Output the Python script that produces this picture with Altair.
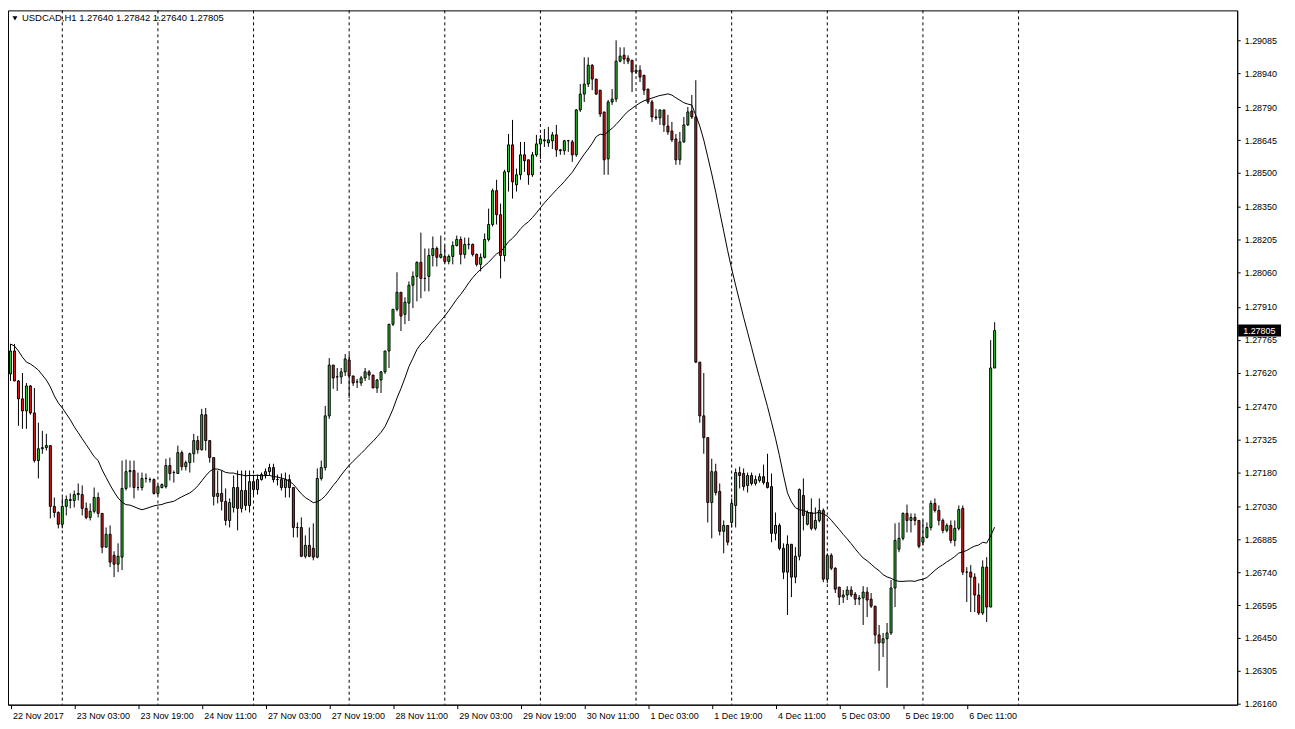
import altair as alt
import pandas as pd

symbol = "USDCAD,H1"

opens = [
    1.27614, 1.27715, 1.27583, 1.27504, 1.27451, 1.27561, 1.27442, 1.27232, 1.27284, 1.27289,
    1.27298, 1.27030, 1.27003, 1.26951, 1.27030, 1.27060, 1.27056, 1.27082, 1.27082, 1.27021,
    1.26981, 1.27008, 1.27069, 1.26999, 1.26850, 1.26907, 1.26814, 1.26775, 1.26806, 1.27109,
    1.27183, 1.27188, 1.27113, 1.27113, 1.27153, 1.27148, 1.27148, 1.27087, 1.27113, 1.27117,
    1.27210, 1.27179, 1.27175, 1.27267, 1.27205, 1.27223, 1.27262, 1.27320, 1.27280, 1.27434,
    1.27320, 1.27245, 1.27074, 1.27087, 1.27052, 1.26968, 1.27025, 1.27113, 1.27021, 1.27100,
    1.27034, 1.27139, 1.27104, 1.27148, 1.27170, 1.27183, 1.27201, 1.27148, 1.27148, 1.27113,
    1.27148, 1.27113, 1.26937, 1.26937, 1.26810, 1.26858, 1.26845, 1.26806, 1.27153, 1.27201,
    1.27429, 1.27653, 1.27601, 1.27601, 1.27623, 1.27675, 1.27605, 1.27579, 1.27574, 1.27596,
    1.27623, 1.27609, 1.27552, 1.27587, 1.27623, 1.27715, 1.27833, 1.27899, 1.27974, 1.27877,
    1.27926, 1.28005, 1.28044, 1.28106, 1.28035, 1.28044, 1.28136, 1.28167, 1.28128, 1.28132,
    1.28110, 1.28132, 1.28180, 1.28207, 1.28141, 1.28185, 1.28185, 1.28141, 1.28097, 1.28128,
    1.28207, 1.28273, 1.28422, 1.28316, 1.28136, 1.28505, 1.28624, 1.28448, 1.28492, 1.28580,
    1.28558, 1.28492, 1.28580, 1.28628, 1.28642, 1.28633, 1.28642, 1.28668, 1.28598, 1.28598,
    1.28642, 1.28637, 1.28580, 1.28778, 1.28848, 1.28892, 1.28975, 1.28914, 1.28865, 1.28769,
    1.28562, 1.28813, 1.28826, 1.28993, 1.29019, 1.29006, 1.28997, 1.28945, 1.28953, 1.28931,
    1.28870, 1.28813, 1.28747, 1.28743, 1.28778, 1.28707, 1.28685, 1.28650, 1.28558, 1.28637,
    1.28712, 1.28773, 1.28747, 1.27666, 1.27429, 1.27333, 1.27047, 1.27183, 1.27096, 1.26920,
    1.26946, 1.26959, 1.27034, 1.27179, 1.27175, 1.27122, 1.27166, 1.27131, 1.27144, 1.27161,
    1.27135, 1.27117, 1.26911, 1.26946, 1.26845, 1.26740, 1.26863, 1.26718, 1.26810, 1.27078,
    1.26951, 1.27003, 1.26933, 1.26968, 1.27012, 1.26709, 1.26814, 1.26757, 1.26674, 1.26630,
    1.26639, 1.26661, 1.26643, 1.26621, 1.26626, 1.26652, 1.26621, 1.26590, 1.26463, 1.26428,
    1.26446, 1.26472, 1.26670, 1.26841, 1.26889, 1.26999, 1.26968, 1.26981, 1.26968, 1.26872,
    1.26893, 1.26937, 1.27043, 1.27012, 1.26968, 1.26924, 1.26946, 1.26880, 1.26933, 1.27021,
    1.26740, 1.26740, 1.26718, 1.26639, 1.26560, 1.26762, 1.26586, 1.27640,
]

highs = [
    1.27746, 1.27746, 1.27587, 1.27618, 1.27574, 1.27565, 1.27552, 1.27399, 1.27363, 1.27350,
    1.27298, 1.27069, 1.27008, 1.27069, 1.27078, 1.27087, 1.27100, 1.27131, 1.27122, 1.27047,
    1.27043, 1.27113, 1.27091, 1.26999, 1.26937, 1.26946, 1.26832, 1.26867, 1.27232, 1.27236,
    1.27232, 1.27232, 1.27179, 1.27179, 1.27175, 1.27157, 1.27153, 1.27126, 1.27131, 1.27240,
    1.27245, 1.27188, 1.27298, 1.27276, 1.27232, 1.27267, 1.27350, 1.27341, 1.27460, 1.27464,
    1.27320, 1.27245, 1.27188, 1.27188, 1.27109, 1.27065, 1.27166, 1.27188, 1.27188, 1.27188,
    1.27188, 1.27170, 1.27170, 1.27179, 1.27197, 1.27218, 1.27218, 1.27170, 1.27175, 1.27179,
    1.27170, 1.27113, 1.26959, 1.26981, 1.26902, 1.26937, 1.26955, 1.27197, 1.27232, 1.27473,
    1.27684, 1.27653, 1.27640, 1.27640, 1.27702, 1.27702, 1.27605, 1.27592, 1.27605, 1.27640,
    1.27631, 1.27609, 1.27592, 1.27627, 1.27715, 1.27833, 1.27899, 1.28062, 1.27974, 1.27952,
    1.28022, 1.28066, 1.28110, 1.28237, 1.28167, 1.28167, 1.28220, 1.28176, 1.28224, 1.28180,
    1.28141, 1.28198, 1.28224, 1.28220, 1.28215, 1.28215, 1.28189, 1.28145, 1.28145, 1.28233,
    1.28343, 1.28431, 1.28470, 1.28365, 1.28514, 1.28672, 1.28734, 1.28519, 1.28637, 1.28637,
    1.28558, 1.28593, 1.28668, 1.28668, 1.28694, 1.28703, 1.28681, 1.28712, 1.28606, 1.28646,
    1.28646, 1.28646, 1.28782, 1.28892, 1.29010, 1.29010, 1.28980, 1.28914, 1.28865, 1.28769,
    1.28822, 1.28870, 1.29085, 1.29054, 1.29054, 1.29019, 1.28997, 1.28975, 1.28975, 1.28931,
    1.28870, 1.28822, 1.28782, 1.28778, 1.28778, 1.28756, 1.28725, 1.28672, 1.28681, 1.28747,
    1.28791, 1.28844, 1.28909, 1.27666, 1.27618, 1.27333, 1.27240, 1.27218, 1.27131, 1.26968,
    1.26946, 1.27065, 1.27197, 1.27205, 1.27197, 1.27179, 1.27179, 1.27166, 1.27175, 1.27214,
    1.27262, 1.27175, 1.27003, 1.26955, 1.26867, 1.26902, 1.26863, 1.26850, 1.27109, 1.27153,
    1.27012, 1.27065, 1.27025, 1.27065, 1.27021, 1.26823, 1.26823, 1.26762, 1.26674, 1.26661,
    1.26678, 1.26678, 1.26652, 1.26639, 1.26678, 1.26674, 1.26648, 1.26590, 1.26507, 1.26472,
    1.26516, 1.26705, 1.26955, 1.26959, 1.27003, 1.27038, 1.26999, 1.26999, 1.26968, 1.26968,
    1.26959, 1.27056, 1.27065, 1.27034, 1.26977, 1.26955, 1.26968, 1.26968, 1.27034, 1.27034,
    1.26762, 1.26771, 1.26735, 1.26691, 1.26792, 1.26806, 1.27763, 1.27842,
]

lows = [
    1.27583, 1.27583, 1.27385, 1.27372, 1.27372, 1.27434, 1.27223, 1.27153, 1.27262, 1.27276,
    1.26977, 1.26981, 1.26933, 1.26933, 1.26990, 1.27021, 1.27025, 1.27056, 1.26990, 1.26973,
    1.26968, 1.26999, 1.26981, 1.26823, 1.26850, 1.26762, 1.26718, 1.26740, 1.26749, 1.27100,
    1.27113, 1.27065, 1.27100, 1.27100, 1.27135, 1.27135, 1.27082, 1.27078, 1.27109, 1.27109,
    1.27144, 1.27135, 1.27175, 1.27188, 1.27188, 1.27179, 1.27223, 1.27262, 1.27276, 1.27276,
    1.27223, 1.27034, 1.27043, 1.27012, 1.26946, 1.26937, 1.27003, 1.26924, 1.27003, 1.27012,
    1.27003, 1.27078, 1.27082, 1.27144, 1.27153, 1.27166, 1.27135, 1.27122, 1.27100, 1.27069,
    1.27069, 1.26893, 1.26893, 1.26806, 1.26801, 1.26806, 1.26792, 1.26801, 1.27144, 1.27188,
    1.27416, 1.27548, 1.27539, 1.27570, 1.27605, 1.27508, 1.27561, 1.27552, 1.27561, 1.27583,
    1.27587, 1.27552, 1.27530, 1.27530, 1.27614, 1.27640, 1.27825, 1.27890, 1.27803, 1.27833,
    1.27847, 1.27904, 1.27934, 1.27948, 1.27978, 1.27978, 1.28088, 1.28088, 1.28123, 1.28101,
    1.28097, 1.28097, 1.28176, 1.28097, 1.28123, 1.28163, 1.28132, 1.28088, 1.28066, 1.28123,
    1.28198, 1.28264, 1.28273, 1.28035, 1.28110, 1.28418, 1.28387, 1.28418, 1.28470, 1.28505,
    1.28448, 1.28483, 1.28571, 1.28562, 1.28615, 1.28615, 1.28606, 1.28571, 1.28580, 1.28580,
    1.28593, 1.28549, 1.28571, 1.28769, 1.28813, 1.28879, 1.28865, 1.28844, 1.28747, 1.28492,
    1.28492, 1.28800, 1.28813, 1.28988, 1.28980, 1.28980, 1.28857, 1.28936, 1.28901, 1.28844,
    1.28804, 1.28725, 1.28734, 1.28712, 1.28681, 1.28668, 1.28637, 1.28536, 1.28536, 1.28633,
    1.28707, 1.28738, 1.27662, 1.27399, 1.27262, 1.26959, 1.26889, 1.27078, 1.26902, 1.26823,
    1.26858, 1.26937, 1.26937, 1.27109, 1.27100, 1.27091, 1.27122, 1.27122, 1.27135, 1.27126,
    1.27109, 1.26872, 1.26880, 1.26836, 1.26709, 1.26551, 1.26630, 1.26691, 1.26792, 1.26924,
    1.26946, 1.26924, 1.26924, 1.26959, 1.26696, 1.26691, 1.26749, 1.26648, 1.26595, 1.26604,
    1.26617, 1.26630, 1.26595, 1.26595, 1.26507, 1.26542, 1.26582, 1.26424, 1.26305, 1.26366,
    1.26230, 1.26463, 1.26586, 1.26828, 1.26880, 1.26915, 1.26915, 1.26946, 1.26845, 1.26858,
    1.26889, 1.26924, 1.27003, 1.26946, 1.26911, 1.26915, 1.26867, 1.26854, 1.26924, 1.26727,
    1.26608, 1.26564, 1.26564, 1.26551, 1.26551, 1.26520, 1.26586, 1.27640,
]

closes = [
    1.27715, 1.27583, 1.27504, 1.27451, 1.27561, 1.27442, 1.27232, 1.27284, 1.27289, 1.27298,
    1.27030, 1.27003, 1.26951, 1.27030, 1.27060, 1.27056, 1.27082, 1.27087, 1.27021, 1.26981,
    1.27008, 1.27069, 1.26999, 1.26850, 1.26907, 1.26784, 1.26775, 1.26810, 1.27109, 1.27183,
    1.27188, 1.27113, 1.27113, 1.27153, 1.27153, 1.27148, 1.27087, 1.27117, 1.27126, 1.27210,
    1.27175, 1.27179, 1.27267, 1.27205, 1.27223, 1.27262, 1.27320, 1.27280, 1.27434, 1.27320,
    1.27245, 1.27074, 1.27087, 1.27052, 1.26968, 1.27047, 1.27113, 1.27021, 1.27100, 1.27034,
    1.27139, 1.27104, 1.27148, 1.27170, 1.27183, 1.27201, 1.27148, 1.27148, 1.27113, 1.27148,
    1.27113, 1.26937, 1.26937, 1.26810, 1.26858, 1.26810, 1.26806, 1.27153, 1.27201, 1.27429,
    1.27653, 1.27596, 1.27601, 1.27623, 1.27680, 1.27605, 1.27574, 1.27579, 1.27596, 1.27623,
    1.27609, 1.27552, 1.27587, 1.27623, 1.27715, 1.27833, 1.27899, 1.27974, 1.27869, 1.27930,
    1.28005, 1.28044, 1.28106, 1.28035, 1.28035, 1.28136, 1.28167, 1.28128, 1.28141, 1.28110,
    1.28132, 1.28180, 1.28207, 1.28141, 1.28185, 1.28185, 1.28141, 1.28097, 1.28128, 1.28207,
    1.28273, 1.28422, 1.28316, 1.28136, 1.28505, 1.28624, 1.28461, 1.28492, 1.28580, 1.28554,
    1.28492, 1.28580, 1.28628, 1.28650, 1.28646, 1.28646, 1.28668, 1.28602, 1.28602, 1.28642,
    1.28642, 1.28580, 1.28778, 1.28848, 1.28892, 1.28975, 1.28914, 1.28848, 1.28760, 1.28558,
    1.28813, 1.28826, 1.28993, 1.29015, 1.29002, 1.28993, 1.28945, 1.28953, 1.28923, 1.28865,
    1.28813, 1.28747, 1.28743, 1.28778, 1.28712, 1.28681, 1.28646, 1.28558, 1.28637, 1.28712,
    1.28769, 1.28747, 1.27666, 1.27429, 1.27333, 1.27047, 1.27183, 1.27091, 1.26920, 1.26946,
    1.26872, 1.27043, 1.27179, 1.27166, 1.27117, 1.27166, 1.27131, 1.27148, 1.27161, 1.27135,
    1.27113, 1.26911, 1.26946, 1.26845, 1.26740, 1.26863, 1.26718, 1.26810, 1.27104, 1.26990,
    1.27003, 1.26933, 1.26968, 1.27012, 1.26709, 1.26814, 1.26757, 1.26665, 1.26630, 1.26639,
    1.26661, 1.26639, 1.26621, 1.26626, 1.26652, 1.26617, 1.26590, 1.26463, 1.26428, 1.26446,
    1.26472, 1.26670, 1.26880, 1.26889, 1.26999, 1.26968, 1.26981, 1.26968, 1.26854, 1.26893,
    1.26937, 1.27043, 1.27012, 1.26968, 1.26924, 1.26946, 1.26880, 1.26933, 1.27016, 1.26740,
    1.26740, 1.26718, 1.26639, 1.26560, 1.26762, 1.26586, 1.27640, 1.27805,
]

# 24-period moving average as drawn for the first bars (its history lies left of the chart)
ma_head = [
    1.27746, 1.27737, 1.27715, 1.27688, 1.27666, 1.27658, 1.27645, 1.27631, 1.27609, 1.27587,
    1.27557, 1.27517, 1.27486, 1.27464, 1.27438, 1.27412, 1.27381, 1.27355, 1.27328, 1.27302,
    1.27276, 1.27249, 1.27232,
]
ma_period = 24

time_label_bars = [0, 16, 32, 48, 64, 80, 96, 112, 128, 144, 160, 176, 192, 208, 224, 240]
time_labels = [
    "22 Nov 2017", "23 Nov 03:00", "23 Nov 19:00", "24 Nov 11:00", "27 Nov 03:00",
    "27 Nov 19:00", "28 Nov 11:00", "29 Nov 03:00", "29 Nov 19:00", "30 Nov 11:00",
    "1 Dec 03:00", "1 Dec 19:00", "4 Dec 11:00", "5 Dec 03:00", "5 Dec 19:00", "6 Dec 11:00",
]
grid_bars = [13, 37, 61, 85, 109, 133, 157, 181, 205, 229, 253]
price_ticks = [
    1.26160, 1.26305, 1.26450, 1.26595, 1.26740, 1.26885, 1.27030, 1.27180, 1.27325, 1.27470,
    1.27620, 1.27765, 1.27910, 1.28060, 1.28205, 1.28350, 1.28500, 1.28645, 1.28790, 1.28940,
    1.29085,
]

# ---------------------------------------------------------------- layout
W, H = 1234, 697
FONT = "Liberation Sans"
UP, DOWN = "#32cd32", "#e51a1a"

n = len(closes)
df = pd.DataFrame({
    "bar": list(range(n)),
    "open": opens, "high": highs, "low": lows, "close": closes,
    "ma_head": ma_head + [None] * (n - len(ma_head)),
})
df["dir"] = ["down" if c < o else "up" for o, c in zip(opens, closes)]

xs = alt.Scale(domain=[-0.625, (W - 2.5) / 4.0], nice=False, zero=False)
ys = alt.Scale(domain=[1.261556, 1.292169], nice=False, zero=False)

label_array = "[" + ",".join("'" + t + "'" for t in time_labels) + "]"
x_axis = alt.Axis(
    values=time_label_bars,
    labelExpr=label_array + "[round(datum.value / 16)]",
    labelAlign="left", labelBaseline="top", labelPadding=3, labelOffset=2,
    labelFont=FONT, labelFontSize=9, labelColor="black",
    tickSize=4, tickColor="black", domainColor="black",
    grid=False, title=None, labelOverlap=False, labelFlush=False, labelBound=False,
)
y_axis = alt.Axis(
    orient="right", values=price_ticks, format=".5f",
    labelFont=FONT, labelFontSize=9, labelColor="black", labelPadding=4,
    tickSize=3, tickColor="black", domainColor="black",
    grid=False, title=None, labelOverlap=False, labelFlush=False,
)


def X(field):
    return alt.X(field, type="quantitative", scale=xs, axis=x_axis)


def Y(field):
    return alt.Y(field, type="quantitative", scale=ys, axis=y_axis)


base = alt.Chart(df)

grid = alt.Chart(pd.DataFrame({"bar": grid_bars})).mark_rule(
    color="black", strokeWidth=1, strokeDash=[3, 3]
).encode(x=X("bar"))

wicks = base.mark_rule(color="black", strokeWidth=1).encode(
    x=X("bar"), y=Y("low"), y2="high:Q",
)

bodies = base.transform_calculate(
    x0="datum.bar - 0.25", x1="datum.bar + 0.25"
).mark_rect(stroke="black", strokeWidth=1).encode(
    x=X("x0"), x2="x1:Q",
    y=Y("open"), y2="close:Q",
    fill=alt.Fill("dir:N", scale=alt.Scale(domain=["up", "down"], range=[UP, DOWN]), legend=None),
)

ma = base.transform_window(
    sma="mean(close)", cnt="count()", frame=[-(ma_period - 1), 0], sort=[{"field": "bar"}]
).transform_calculate(
    ma=f"datum.cnt < {ma_period} ? datum.ma_head : datum.sma"
).mark_line(color="black", strokeWidth=1).encode(
    x=X("bar"), y=Y("ma"), order="bar:Q",
)

header_df = pd.DataFrame({
    "text": [f"{symbol}  {opens[-1]:.5f} {highs[-1]:.5f} {lows[-1]:.5f} {closes[-1]:.5f}"]
})
header_tri = alt.Chart(header_df).mark_point(
    shape="triangle-down", filled=True, color="black", size=24, opacity=1
).encode(x=alt.value(7), y=alt.value(8))
header_text = alt.Chart(header_df).mark_text(
    align="left", baseline="middle", font=FONT, fontSize=9.5, color="black"
).encode(x=alt.value(14), y=alt.value(8), text="text:N")

last_df = pd.DataFrame({"price": [closes[-1]], "label": [f"{closes[-1]:.5f}"]})
price_box = alt.Chart(last_df).mark_rule(color="black", strokeWidth=12, strokeCap="butt").encode(
    x=alt.value(W + 1), x2=alt.value(W + 44), y=Y("price"),
)
price_text = alt.Chart(last_df).mark_text(
    align="left", baseline="middle", font=FONT, fontSize=9, color="white"
).encode(x=alt.value(W + 6), y=Y("price"), text="label:N")

chart = alt.layer(
    grid, wicks, bodies, ma, header_tri, header_text, price_box, price_text
).properties(
    width=W, height=H, padding=0, background="white"
).configure_view(stroke="black", strokeWidth=1)

chart.save("out.html", embed_options={"renderer": "svg", "actions": False})
